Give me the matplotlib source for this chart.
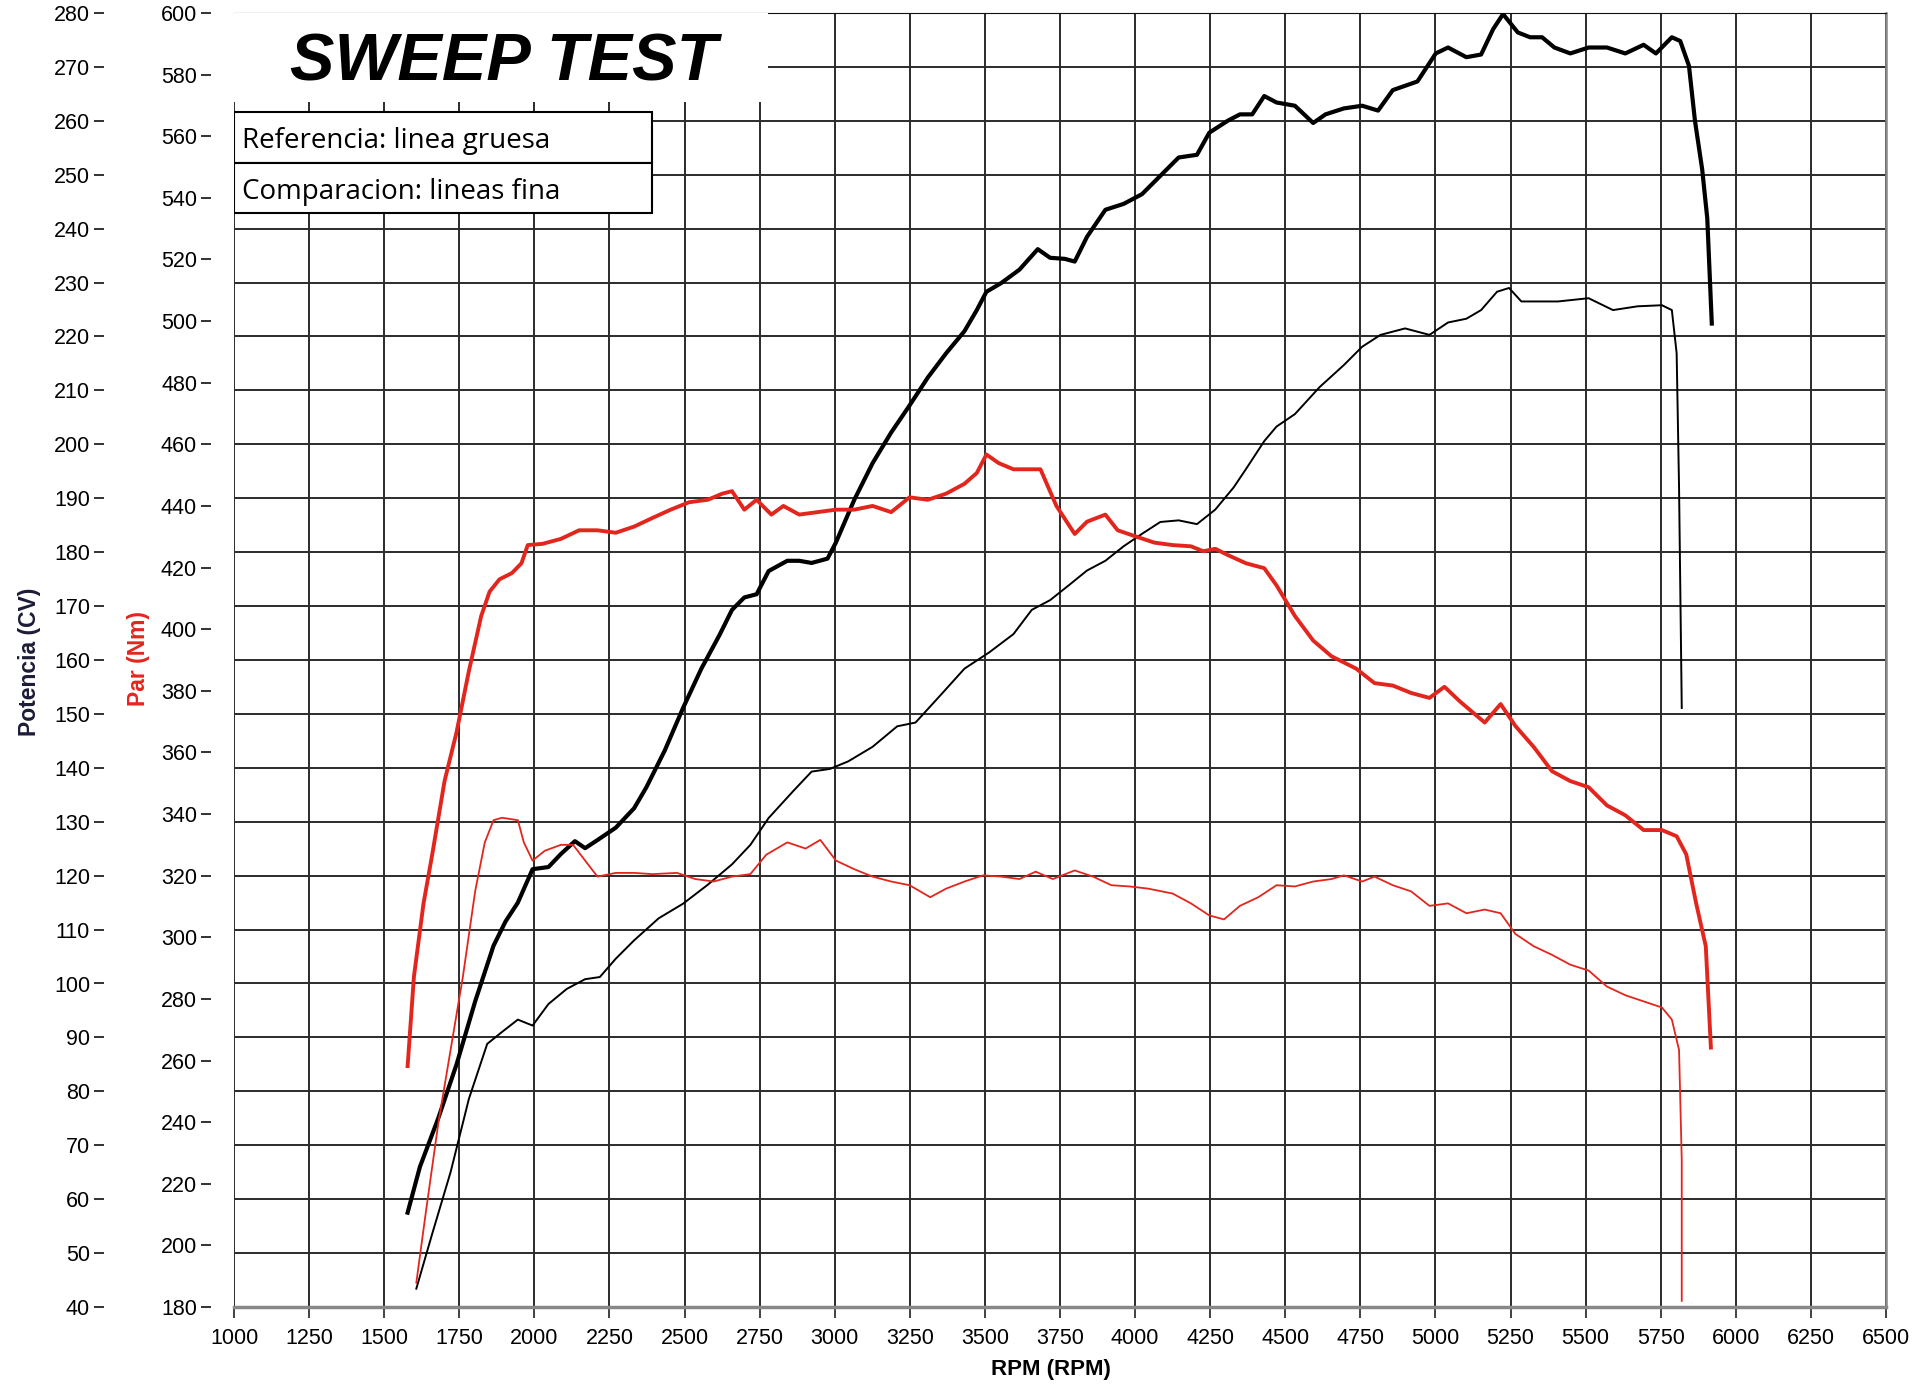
import matplotlib
matplotlib.use("Agg")
import matplotlib.pyplot as plt
from matplotlib.patches import Rectangle

# --- data ---
rpm_ticks = list(range(1000, 6501, 250))
power_ticks = list(range(40, 281, 10))
torque_ticks = list(range(180, 601, 20))

# reference run (thick lines)
ref_pow_rpm = [1578, 1619, 1680, 1741, 1803, 1864, 1904, 1945, 1994, 2047, 2088, 2135,
               2169, 2210, 2271, 2332, 2373, 2434, 2495, 2556, 2617, 2658, 2699, 2740,
               2780, 2842, 2882, 2923, 2976, 3004, 3065, 3126, 3188, 3249, 3310, 3371,
               3432, 3473, 3505, 3554, 3615, 3676, 3717, 3766, 3799, 3840, 3901, 3962,
               4023, 4084, 4145, 4206, 4247, 4308, 4349, 4390, 4430, 4471, 4532, 4593,
               4634, 4695, 4756, 4809, 4858, 4940, 5001, 5042, 5103, 5152, 5192, 5225,
               5274, 5315, 5355, 5396, 5449, 5510, 5571, 5632, 5693, 5734, 5787, 5815,
               5844, 5864, 5888, 5905, 5920]
ref_pow = [57.5, 66, 75, 85, 96.7, 107, 111.5, 115, 121.2, 121.6, 124, 126.4,
           125.1, 126.6, 128.9, 132.5, 136.4, 143.2, 151.1, 158.4, 164.7, 169.3, 171.6, 172.2,
           176.5, 178.4, 178.4, 178, 178.8, 181.8, 189.7, 196.5, 202.2, 207.2, 212.4, 216.9,
           221, 224.9, 228.3, 229.9, 232.4, 236.2, 234.6, 234.4, 233.9, 238.5, 243.5, 244.6,
           246.4, 249.8, 253.2, 253.7, 257.8, 260, 261.2, 261.2, 264.6, 263.4, 262.8, 259.6,
           261.2, 262.3, 262.8, 261.9, 265.7, 267.3, 272.5, 273.6, 271.8, 272.3, 277, 279.8,
           276.4, 275.5, 275.5, 273.6, 272.5, 273.6, 273.6, 272.5, 274.1, 272.5, 275.5, 274.8,
           270.2, 260, 251, 241.9, 222.4]

ref_tq_rpm = [1578, 1599, 1631, 1660, 1701, 1741, 1782, 1823, 1851, 1884, 1925, 1957,
              1978, 2027, 2088, 2149, 2210, 2271, 2332, 2393, 2454, 2515, 2577, 2626,
              2658, 2699, 2740, 2789, 2829, 2882, 2943, 3004, 3065, 3126, 3188, 3249,
              3310, 3371, 3432, 3473, 3505, 3546, 3595, 3656, 3685, 3738, 3799, 3840,
              3901, 3942, 4002, 4064, 4125, 4186, 4227, 4267, 4308, 4369, 4430, 4471,
              4532, 4593, 4654, 4736, 4797, 4858, 4919, 4980, 5030, 5082, 5164, 5217,
              5266, 5327, 5388, 5449, 5510, 5571, 5632, 5693, 5754, 5803, 5835, 5868,
              5900, 5917]
ref_tq = [258.2, 287.2, 311, 326.9, 350.7, 366.6, 386.4, 404.3, 412.2, 416.2, 418.2, 421.4,
          427.3, 427.7, 429.3, 432.1, 432.1, 431.3, 433.3, 436.1, 438.8, 441.2, 442, 444,
          444.8, 438.8, 442, 437.2, 440, 437.2, 438, 438.8, 438.8, 440, 438, 442.8,
          442, 444, 447.2, 450.7, 456.7, 453.9, 451.9, 451.9, 451.9, 440, 430.9, 434.9,
          437.2, 432.1, 430.1, 428.1, 427.3, 426.9, 425.3, 426.1, 424.1, 421.4, 419.8, 414.2,
          404.3, 396.3, 391.2, 387.2, 382.5, 381.7, 379.3, 377.7, 381.3, 376.5, 369.7, 375.7,
          368.6, 361.8, 353.9, 350.7, 348.7, 342.8, 339.6, 334.8, 334.8, 332.8, 326.9, 311,
          297.1, 264.2]

# comparison run (thin lines)
cmp_pow_rpm = [1607, 1660, 1721, 1782, 1843, 1892, 1945, 1994, 2047, 2108, 2169, 2218,
               2271, 2332, 2414, 2495, 2577, 2658, 2719, 2780, 2862, 2923, 2984, 3045,
               3126, 3208, 3269, 3351, 3432, 3514, 3595, 3656, 3717, 3778, 3840, 3901,
               3962, 4023, 4084, 4145, 4206, 4267, 4328, 4369, 4430, 4471, 4532, 4614,
               4695, 4756, 4817, 4899, 4980, 5042, 5103, 5152, 5205, 5245, 5286, 5347,
               5408, 5510, 5591, 5673, 5754, 5787, 5803, 5811, 5820]
cmp_pow = [43.4, 53.6, 65, 78.6, 88.8, 91, 93.3, 92.2, 96.2, 99, 100.8, 101.2,
           104.6, 108, 112.1, 114.8, 118.3, 122.1, 125.7, 130.7, 135.7, 139.3, 139.8, 141.2,
           143.9, 147.7, 148.4, 153.4, 158.4, 161.4, 164.8, 169.3, 171.1, 173.8, 176.6, 178.4,
           181.1, 183.4, 185.6, 185.9, 185.2, 187.9, 192, 195.4, 200.6, 203.3, 205.6, 210.6,
           214.7, 218.1, 220.3, 221.5, 220.3, 222.6, 223.3, 224.9, 228.3, 229, 226.5, 226.5,
           226.5, 227.1, 224.9, 225.6, 225.8, 224.9, 216.9, 192, 151.1]

cmp_tq_rpm = [1607, 1640, 1680, 1721, 1762, 1803, 1835, 1864, 1892, 1945, 1965, 1994,
              2035, 2088, 2129, 2169, 2210, 2271, 2332, 2393, 2475, 2536, 2597, 2658,
              2719, 2772, 2842, 2903, 2952, 3004, 3065, 3126, 3188, 3249, 3318, 3371,
              3432, 3494, 3554, 3615, 3669, 3726, 3799, 3860, 3921, 3982, 4043, 4125,
              4186, 4247, 4296, 4349, 4410, 4471, 4532, 4593, 4654, 4695, 4756, 4797,
              4858, 4919, 4980, 5042, 5103, 5164, 5217, 5266, 5327, 5388, 5449, 5510,
              5571, 5632, 5693, 5754, 5787, 5811, 5820, 5820]
cmp_tq = [187.9, 211.7, 239.5, 263.4, 287.2, 315, 330.8, 338, 338.8, 338, 330.8, 324.9,
          328.1, 330, 330, 324.9, 319.7, 320.9, 320.9, 320.5, 320.9, 318.9, 318.1, 319.7,
          320.5, 326.8, 330.8, 328.8, 331.6, 324.9, 322.1, 319.7, 318.1, 316.9, 313, 315.8,
          318.1, 320.1, 319.7, 318.9, 321.3, 318.9, 321.7, 319.7, 316.9, 316.5, 315.8, 314.2,
          311, 307.1, 305.8, 310.2, 313, 316.9, 316.5, 318.1, 318.9, 320.1, 318.1, 319.7,
          316.9, 314.9, 310.2, 311, 307.8, 309, 307.8, 301.1, 297.1, 294.3, 291.1, 289.2,
          284, 281.2, 279.2, 277.2, 273.3, 263.4, 227.6, 182]

title = "SWEEP TEST"
legend_rows = ["Referencia: linea gruesa", "Comparacion: lineas fina"]

RED = "#e3261d"
GRID = "#2b2b2b"
plt.rcParams["font.family"] = ["Liberation Sans", "DejaVu Sans"]

fig = plt.figure(figsize=(19.12, 13.90), dpi=100)
ax = fig.add_axes([234 / 1912, 1 - 1307 / 1390, 1652 / 1912, 1294 / 1390])
ax2 = ax.twinx()

ax.set_xlim(1000, 6500)
ax.set_ylim(40, 280)
ax2.set_ylim(180, 600)

ax.set_xticks(rpm_ticks)
ax.set_xticklabels([str(v) for v in rpm_ticks])
ax.set_yticks(power_ticks)
ax.set_yticklabels([str(v) for v in power_ticks])
ax2.set_yticks(torque_ticks)
ax2.set_yticklabels([str(v) for v in torque_ticks])

ax.grid(True, color=GRID, lw=1.4)
ax.tick_params(axis="x", length=8, width=1.3, pad=7, color="#333", labelsize=15.5)
ax.tick_params(axis="y", length=7, width=1.3, pad=3, color="#222", labelsize=15.5)

# put both value scales on the left, detached from the frame
ax.spines["left"].set_position(("outward", 93.6))
ax.spines["left"].set_visible(False)
ax2.yaxis.tick_left()
ax2.spines["left"].set_position(("outward", 16.6))
ax2.tick_params(axis="y", length=7, width=1.3, pad=3, color="#222", labelsize=15.5)
for s in ax2.spines.values():
    s.set_visible(False)
ax.spines["top"].set_color("#111")
ax.spines["right"].set_color("#888")
ax.spines["bottom"].set_color("#888")
ax.spines["bottom"].set_linewidth(2.5)
ax.spines["right"].set_linewidth(1.8)

# curves
ax.plot(ref_pow_rpm, ref_pow, color="black", lw=3.0, zorder=6, solid_joinstyle="round")
ax.plot(cmp_pow_rpm, cmp_pow, color="black", lw=1.4, zorder=6)
ax2.plot(ref_tq_rpm, ref_tq, color=RED, lw=2.8, solid_joinstyle="round")
ax2.plot(cmp_tq_rpm, cmp_tq, color=RED, lw=1.3)

# title panel and legend boxes
ax.add_patch(Rectangle((0, 0.931), 0.323, 0.069, transform=ax.transAxes,
                       facecolor="white", edgecolor="none", zorder=3))
ax.text(0.034, 0.961, title, transform=ax.transAxes, fontsize=48, fontweight="bold",
        fontstyle="italic", va="center", ha="left", zorder=4)
row_h = (0.9235 - 0.8454) / 2
for i, txt in enumerate(legend_rows):
    y0 = 0.9235 - (i + 1) * row_h
    ax.add_patch(Rectangle((0, y0), 0.253, row_h, transform=ax.transAxes,
                           facecolor="white", edgecolor="black", lw=1.5, zorder=4))
    ax.text(0.005, y0 + row_h / 2 - 0.003, txt, transform=ax.transAxes, fontsize=20,
            family=["Open Sans", "DejaVu Sans"], va="center", ha="left", zorder=5)

# axis titles
fig.text(30 / 1912, 1 - 662 / 1390, "Potencia (CV)", rotation=90, ha="center", va="center",
         fontsize=16.5, fontweight="bold", color="#1c1c36")
fig.text(138 / 1912, 1 - 658 / 1390, "Par (Nm)", rotation=90, ha="center", va="center",
         fontsize=16.5, fontweight="bold", color=RED)
fig.text(1051 / 1912, 1 - 1369 / 1390, "RPM (RPM)", ha="center", va="center",
         fontsize=16, fontweight="bold")

fig.savefig("out.png", dpi=100, facecolor="white")
